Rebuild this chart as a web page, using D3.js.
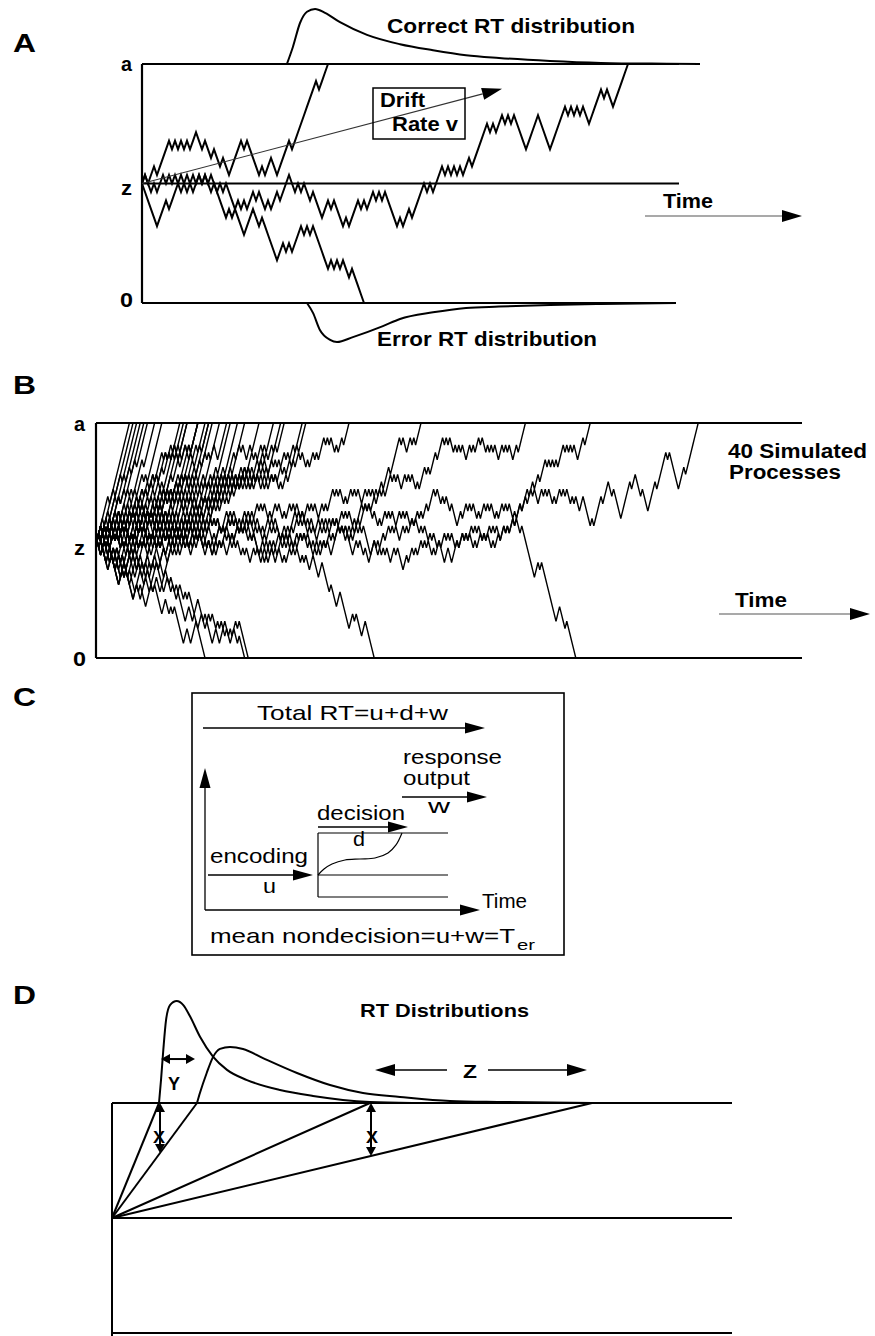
<!DOCTYPE html>
<html>
<head>
<meta charset="utf-8">
<script src="https://cdn.jsdelivr.net/npm/d3@7"></script>
<style>
  body { margin: 0; background: #fff; }
  svg { display: block; }
  text { font-family: "Liberation Sans", Arial, Helvetica, sans-serif; fill: #000; }
</style>
</head>
<body>
<svg id="fig" width="875" height="1336"></svg>
<script>
// Diffusion model figure: panels A-D.
// Random walks are stored as runs of unit steps (+n = n steps up, -n = n steps down).

const panelLetters = ["A", "B", "C", "D"];
const boundLabels = ["a", "z", "0"];

// ---- panel A ----
const boundA = 14;            // a - z in step units
const walkAFast = [1,-1,2,-1,4,-1,1,-1,1,-1,1,-1,2,-2,1,-2,1,-2,1,-2,4,-1,1,-4,1,-1,2,-2,4,-1,1,7,-1,3];
const walkASlow = [1,-2,1,-1,2,-1,1,-1,1,-2,2,-1,1,-1,1,-1,1,-1,1,-2,-3,1,-1,2,-1,1,-1,2,-1,1,-2,1,-1,2,-1,3,
    -2,1,-1,1,-1,-1,1,-3,2,-1,1,-3,1,-1,3,-1,1,-1,2,-1,1,-1,1,-4,1,-1,2,-1,1,3,-1,1,-1,3,
    -1,1,-1,1,-1,1,-1,2,-1,4,1,-1,1,-1,2,-1,1,-1,1,-4,4,-4,5,-1,1,-1,1,-1,1,-2,4,-1,1,-2,5];
const walkAError = [-5,3,-1,3,1,-2,1,-1,2,-1,1,-2,1,-1,1,-1,1,-1,-5,3,-2,1,-5,2,-1,1,-1,3,
    -1,1,-1,1,-1,-3,-1,1,-1,1,-1,1,-1,-1,1,-4];
// RT densities, [time step, relative height]
const correctDensityA = [[48.3,0],[50.3,0.31],[52.7,0.75],[55,0.95],[57.7,1],[61,0.93],[66,0.76],[75,0.53],
    [86,0.36],[97,0.25],[108,0.16],[119,0.11],[136,0.055],[153,0.02],[175,0.005],[186,0]];
const errorDensityA = [[55,0],[57,0.18],[59.3,0.49],[62.7,0.67],[65,0.71],[70.3,0.62],[80.3,0.42],[86,0.29],
    [97,0.17],[108,0.09],[119,0.065],[136,0.036],[153,0.018],[178,0]];
const driftA = [[0, 0], [120, 11.1]];   // drift rate arrow, [time, evidence above z]
const textA = ["Correct RT distribution", "Error RT distribution", "Drift", "Rate v", "Time"];

// ---- panel B: 40 simulated processes ----
const boundB = 16;
const walksB = [
  [6,-1,11],
  [3,-1,5,-1,10],
  [1,-1,4,-1,6,-1,8],
  [2,-1,1,-1,5,-1,4,-1,8],
  [-1,3,-1,2,-1,4,-1,5,-1,7],
  [1,-1,1,-1,3,-1,4,-1,2,-1,5,-1,6],
  [2,-1,1,-2,3,-1,2,-1,4,-1,1,-1,5,-1,6],
  [1,-1,2,-1,1,-1,3,-2,1,-1,4,-1,2,-1,3,-1,1,-1,8],
  [-1,2,-1,1,-2,3,-1,2,-1,1,-1,3,-1,2,-1,1,-1,3,-1,1,-1,5,-1,1,-1,2,-1,1,-1,4],
  [2,-1,1,-1,1,-2,1,-1,3,-1,1,-1,2,-1,1,-1,4,-1,1,-1,3,-1,1,-1,4,-1,1,-1,2,-1,1,-1,4],
  [-2,1,-1,3,-1,1,-1,1,-1,2,-1,1,-1,3,-1,1,-1,2,-1,1,-1,3,-1,2,-1,1,-1,5,-1,1,-2,3,-1,1,-1,4],
  [2,-1,1,-1,1,-2,1,-1,2,-1,1,-1,3,-1,1,-2,1,-1,2,-1,1,-1,3,-1,2,-1,1,-1,6,-1,1,-1,2,-1,1,-1,4],
  [1,-2,1,-2,1,-1,-2,1,1,-1,2,-1,1,-1,2,-1,3,-1,1,-1,3,-1,2,-1,1,-1,3,-1,1,-1,2,-1,5,-1,1,-1,2,-1,1,-1,4],
  [1,-1,3,-1,1,-2,3,-1,1,-1,1,-2,1,-1,3,-1,1,-1,2,-1,1,-2,3,-1,1,-1,3,-1,8],
  [-2,1,1,-2,1,-1,-2,1,1,-1,-1,2,1,-1,2,-1,1,-1,2,-1,3,-1,1,-1,2,-1,3,-1,2,-1,1,-1,3,-1,8],
  [1,-1,1,-1,2,-1,1,-1,1,-2,1,-1,2,-1,3,-1,1,-1,1,-1,1,-2,2,-1,3,-1,1,-1,2,-1,1,-1,3,-1,1,-1,1,-2,2,-1,3,-1,2,-1,1,-1,2,-2,5],
  [1,-2,-2,1,1,-2,1,-1,-2,1,1,-1,-1,2,1,-1,-1,2,2,-1,1,-1,2,-1,3,-1,1,-1,2,-1,1,-1,3,-1,2,-1,1,-1,3,-1,8],
  [2,-1,1,-1,1,-2,1,-1,1,-1,2,-1,1,-2,1,-1,2,-1,1,-1,3,-1,1,-1,1,-2,2,-1,1,-1,2,-1,3,-1,1,-1,2,-1,3,-1,7],
  [-2,1,-3,1,1,-2,-2,1,1,-1,1,-2,-2,1,1,-1,-1,2,1,-1,-1,2,2,-1,1,-1,-1,2,2,-1,1,-1,2,-1,1,-1,3,-1,1,-1,2,-1,3,-1,2,-1,1,-1,3,-1,5,-1,2,-1,1,-2,2,-1,4],
  [1,-1,2,-1,1,-1,1,-2,2,-1,1,-1,3,-1,1,-2,1,-1,2,-1,1,-1,1,-1,2,-1,3,-1,1,-2,1,-1,2,-1,3,-1,1,-2,1,-1,1,-2,2,-1,1,-1,3,-1,7],
  [-2,1,-3,1,1,-2,-2,1,1,-1,1,-2,1,-1,-1,2,1,-1,-1,2,1,-1,2,-1,-1,2,1,-1,2,-1,1,-1,2,-1,3,-1,1,-1,2,-1,1,-1,3,-1,2,-1,1,-1,3,-1,1,-1,2,-1,7],
  [2,-1,1,-2,1,-1,2,-1,1,-1,1,-2,1,-1,2,-1,1,-1,3,-1,1,-2,1,-1,2,-1,1,-1,1,-2,2,-1,1,-1,3,-1,1,-1,2,-1,1,-1,3,-1,8],
  [1,-1,1,-2,1,-1,-2,1,1,-1,2,-1,1,-1,1,-2,1,-1,2,-1,1,-1,2,-1,1,-1,1,-2,2,-1,1,-1,3,-1,1,-1,2,-1,1,-1,1,-2,1,-1,2,-1,3,-1,1,-1,2,-1,1,-1,3,-1,1,-2,1,-1,2,-1,4,-1,1,-1,2,-1,1,-1,4],
  [1,-2,1,-1,1,-2,1,-1,-2,1,1,-1,-1,2,1,-1,1,-2,1,-1,-1,2,2,-1,1,-1,2,-1,1,-1,1,-2,1,-1,2,-1,1,-1,3,-1,1,-1,1,-2,2,-1,1,-1,3,-1,1,-1,2,-1,1,-1,3,-1,2,-1,1,-1,1,-2,1,-1,5,-1,1,-1,2,-1,1,-1,4],
  [1,-1,1,-2,-2,1,1,-1,1,-2,1,-1,-1,2,1,-1,2,-1,1,-1,1,-2,1,-1,2,-1,1,-1,3,-1,1,-2,1,-1,1,-1,2,-1,1,-1,3,-1,1,-1,1,-2,2,-1,3,-1,1,-1,2,-1,1,-1,3,-1,1,-1,1,-2,1,-1,2,-1,1,-2,2,-1,8],
  [1,-2,-2,1,1,-2,1,-1,-2,1,-1,2,1,-1,1,-2,1,-1,-1,2,1,-1,-1,2,2,-1,1,-1,-1,2,2,-1,1,-1,2,-1,1,-1,3,-1,1,-1,2,-1,1,-2,1,-1,3,-1,2,-1,1,-1,1,-2,2,-1,1,-1,3,-1,1,-2,1,-1,1,-2,1,-1,2,-1,1,-1,4,-1,1,-1,2,-1,1,-1,4],
  [2,-1,1,-1,2,-1,1,-1,1,-2,2,-1,1,-1,3,-1,1,-1,1,-2,1,-1,2,-1,1,-1,1,-2,1,-1,3,-1,1,-1,1,-2,2,-1,1,-1,1,-2,1,-1,2,-1,1,-1,3,-1,1,-1,2,-1,1,-2,1,-1,1,-1,3,-1,1,-2,1,-1,2,-1,1,-1,1,-2,1,-1,1,-2,1,-1,2,-1,8],
  [1,-1,2,-1,1,-1,3,-1,1,-1,2,-1,1,-2,3,-1,2,-1,1,-1,3,-1,1,-1,2,-1,3,-1,5],
  [1,-2,1,-1,2,-1,1,-1,1,-2,1,-1,2,-1,3,-1,1,-1,2,-1,1,-1,1,-2,3,-1,2,-1,1,-1,3,-1,1,-1,2,-1,3,-1,6],
  [1,-1,1,-1,1,-2,2,-1,1,-1,1,-2,1,-1,2,-1,1,-1,3,-1,1,-1,1,-2,2,-1,1,-1,1,-2,2,-1,1,-1,3,-1,1,-1,2,-1,1,-1,3,-1,1,-1,2,-1,1,-2,3,-1,7],
  // errors
  [1,-2,-2,1,1,-2,-3,1,1,-1,1,-2,-2,1,1,-1,1,-2,-1,2,1,-1,1,-2,-2,1,1,-2,1,-1,1,-2,-3,1,1,-1,-1,2,1,-1,-4],
  [1,-1,1,-2,-2,1,1,-1,1,-2,1,-1,-2,1,-1,2,1,-2,1,-1,1,-2,-2,1,1,-1,-1,2,1,-2,1,-1,-2,1,1,-2,1,-1,1,-2,-3,1,1,-1,1,-2,-2,1,1,-1,-1,2,1,-2,1,-1,1,-2,1,-1,-2],
  [1,-2,1,-1,1,-2,-2,1,1,-1,-1,2,1,-2,-2,1,1,-1,1,-2,1,-1,2,-1,1,-2,-2,1,1,-2,1,-1,1,-2,-3,1,1,-1,-1,2,1,-2,-2,1,1,-1,1,-2,1,-1,1,-2,1,-1,-1,2,1,-1,1,-2,-3],
  // slow processes
  [1,-1,2,-1,1,-1,1,-2,2,-1,1,-1,1,-2,1,-1,2,-1,1,-1,1,-1,1,-2,2,-1,1,-1,2,-1,1,-1,1,-2,1,-1,2,-1,1,-1,
   3,-1,1,-1,2,-1,3,-1,1,-1,2,-1,1,-1,1,-2,2,-1,1,-1,2,-1,1,-2,1,-1,3,-1,1,-1,1,-2,2,-1,1,-1,1,-2,1,-1,
   2,-1,1,-1,2,-1,1,-2,1,-1,2,-1,1,-1,3,-1,1,-1,1,-2,1,-1,2,-1,3],
  [1,-1,2,-1,1,-1,1,-2,1,-1,1,-2,2,-1,1,-1,2,-1,3,-1,1,-1,1,-2,1,-2,1,-1,1,-2,1,-1,2,-1,1,-1,1,-2,-2,1,
   1,-1,2,-1,-1,2,2,-1,1,-1,1,-2,1,-1,2,-1,1,-1,1,-2,3,-1,1,-1,1,-2,1,-2,1,-1,2,-1,1,-1,1,-2,-2,1,-1,2,
   1,-1,2,-1,1,-1,1,-2,1,-1,1,-2,2,-1,1,-1,2,-1,1,-1,1,-2,1,-2,2,-1,1,-1,2,-1,
   3,-1,1,-1,3,-1,2,-1,3,-1,5,-1,1,-2,2,-1,1,-1,3],
  [1,-1,2,-1,1,-1,1,-2,1,-1,2,-1,1,-2,1,-1,2,-1,1,-1,1,-2,1,-1,2,-1,1,-1,2,-1,1,-2,1,-1,1,-2,1,-1,2,-1,
   1,-1,1,-2,2,-1,1,-1,2,-1,1,-1,1,-2,1,-1,2,-1,1,-1,1,-2,1,-1,2,-1,1,-1,3,-1,1,-1,1,-2,1,-1,2,-1,1,-2,
   1,-1,2,-1,1,-1,1,-2,1,-1,2,-1,1,-1,1,-2,2,-1,1,-1,3,-1,1,-1,1,-2,1,-1,2,-1,1,-1,1,-2,2,-1,1,-1,1,-2,
   2,-1,1,-1,3,-1,1,-1,1,-2,2,-1,1,-1,1,-2,1,-1,3,-1,1,-1,3,-1,3,-1,1,-1,1,-2,1,-1,1,-1,1,-2,2,-1,1,-1,
   2,-1,1,-2,1,-1,1,-1,1,-2,2,-1,1,-1,1,-2,2,-1,4],
  [1,-1,1,-2,1,-1,2,-1,1,-2,1,-1,2,-1,1,-1,1,-2,1,-1,2,-1,1,-1,1,-2,-2,1,1,-1,-1,2,1,-1,1,-2,2,-1,1,-1,
   2,-1,1,-1,2,-1,1,-1,1,-2,1,-1,2,-1,3,-1,1,-1,1,-2,1,-1,1,-2,1,-2,1,-1,-2,1,1,-1,1,-2,1,-1,-1,2,2,-1,
   1,-1,1,-2,1,-1,2,-1,1,-1,1,-2,1,-1,1,-2,2,-1,1,-1,-1,2,2,-1,1,-1,1,-2,1,-1,2,-1,1,-1,1,-2,-2,1,1,-1,
   -1,2,1,-1,2,-1,1,-1,1,-2,2,-1,1,-1,2,-1,1,-2,1,-1,1,-2,1,-1,1,-2,1,-1,-2,1,1,-1,-1,2,1,-1,2,-1,1,-1,
   1,-2,1,-1,2,-1,1,-1,1,-2,1,-1,2,-1,2,-1,1,-1,2,-1,
   3,-1,2,-1,3,-1,2,-1,3,-1,1,-1,1,-1,1,-1,3,-1,1,-1,1,-1,1,-2,3,-1,3],
  [1,-1,2,-1,1,-1,1,-2,2,-1,1,-1,1,-2,1,-1,2,-1,1,-1,1,-2,1,-1,2,-1,1,-1,1,-2,1,-1,2,-1,1,-1,1,-2,1,-1,
   2,-1,1,-1,1,-2,-2,1,1,-1,-1,2,2,-1,1,-1,1,-2,1,-1,2,-1,1,-1,2,-1,1,-2,1,-1,1,-2,1,-1,2,-1,1,-1,1,-2,
   2,-1,1,-1,3,-1,1,-1,1,-2,1,-1,1,-2,2,-1,1,-1,1,-2,2,-1,1,-1,2,-1,1,-1,1,-2,1,-1,3,-1,1,-1,1,-2,1,-2,
   1,-1,2,-1,1,-1,1,-2,2,-1,1,-1,1,-2,1,-1,2,-1,1,-1,2,-1,3,-1,1,-2,1,-1,1,-2,1,-1,-2,1,1,-1,2,-1,1,-1,
   1,-2,1,-1,2,-1,1,-1,1,-2,1,-1,2,-1,1,-1,1,-2,1,-1,2,-1,3,-1,1,-1,1,-2,2,-1,1,-1,1,-2,1,-1,
   2,-1,1,-1,1,-2,1,-1,1,-2,2,-1,
   -3,1,-1,4,-1,3,-2,1,-4,5,-1,2,-3,1,-3,4,-1,5,-1,1,-3,-2,3,-1,1,6],
  [1,-1,2,-1,1,-1,1,-2,1,-1,2,-1,1,-2,1,-1,2,-1,1,-1,1,-2,1,-1,1,-2,2,-1,1,-1,2,-1,1,-2,1,-1,1,-1,1,-2,
   2,-1,1,-1,1,-2,1,-1,1,-2,2,-1,1,-1,2,-1,1,-2,1,-1,1,-2,1,-1,1,-2,2,-1,1,-1,1,-2,1,-1,2,-1,1,-1,1,-2,
   1,-1,2,-1,1,-1,1,-2,1,-1,1,-2,2,-1,-2,1,1,-2,-2,1,-3,1,1,-2,-3,1,1,-1,1,-2,-1,2,-5],
  [1,-1,1,-2,1,-1,2,-1,1,-2,1,-1,2,-1,1,-1,1,-2,1,-1,2,-1,1,-1,1,-2,1,-1,2,-1,1,-1,2,-1,1,-2,1,-1,1,-2,
   1,-1,2,-1,1,-1,1,-2,1,-1,1,-2,2,-1,1,-1,-1,2,1,-1,2,-1,1,-1,1,-2,1,-1,1,-2,-2,1,1,-1,2,-1,1,-1,2,-1,
   1,-1,1,-2,1,-1,2,-1,1,-1,1,-2,1,-2,1,-1,2,-1,1,-1,2,-1,1,-1,2,-1,1,-1,1,-2,-2,1,1,-1,1,-2,1,-1,-1,2,
   1,-1,1,-2,1,-1,1,-2,2,-1,1,-1,-2,1,1,-1,2,-1,1,-1,2,-1,1,-1,1,-2,1,-1,2,-1,2,-1,1,-1,1,-2,1,-1,2,-1,
   1,-1,2,-1,1,-1,1,-2,1,-1,2,-1,1,-1,1,-2,2,-1,1,-1,2,-1,1,-1,
   -1,1,-7,2,-1,1,-8,2,-3,1,-1,-4]
];
const textB = ["40 Simulated", "Processes", "Time"];

// ---- panel C: components of RT ----
const decisionPathC = [[0,0.344],[6,0.4375],[14,0.516],[27,0.578],[42,0.594],[57,0.609],[70,0.688],[78,0.813],[84,1]];
const boundsC = [1, 0.344, 0];
const textC = ["Total RT=u+d+w", "response", "output", "w", "decision", "d", "encoding", "u", "Time",
    "mean nondecision=u+w=T", "er"];

// ---- panel D: RT distributions ----
const rtNarrowD = [[47,0],[49,0.225],[51.3,0.52],[54,0.81],[58,0.96],[64.7,1],[71.3,0.96],[78,0.85],[88,0.65],
    [101,0.455],[115,0.325],[135,0.225],[168,0.127],[201,0.069],[258,0.01],[300,0]];
const rtWideD = [[85,0],[88,0.1],[94.7,0.294],[101,0.45],[108,0.53],[118,0.55],[131,0.53],[151,0.44],[185,0.294],
    [218,0.176],[251,0.098],[288,0.06],[338,0.02],[388,0.01],[480,0]];
const fanEndsD = [47, 85, 258, 480];
const textD = ["RT Distributions", "X", "Y", "Z"];

// ---------------------------------------------------------------
const svg = d3.select("#fig");

function walkPoints(runs, bound) {
    let pts = [[0, 0]], t = 0, v = 0;
    for (const r of runs) {
        const s = Math.sign(r);
        for (let i = 0; i < Math.abs(r); i++) {
            t += 1; v += s;
            pts.push([t, v]);
            if (Math.abs(v) >= bound) return pts;
        }
    }
    return pts;
}

function label(g, str, x, y, size, width, bold) {
    let t = g.append('text')
        .attr('x', x).attr('y', y)
        .attr('font-size', size)
        .text(str);
    if (bold) t.attr('font-weight', 'bold');
    if (width) t.attr('textLength', width).attr('lengthAdjust', 'spacingAndGlyphs');
    return t;
}

function hline(g, x1, x2, y, w) {
    g.append('line').attr('x1', x1).attr('x2', x2).attr('y1', y).attr('y2', y)
        .attr('stroke', '#000').attr('stroke-width', w);
}
function vline(g, x, y1, y2, w) {
    g.append('line').attr('x1', x).attr('x2', x).attr('y1', y1).attr('y2', y2)
        .attr('stroke', '#000').attr('stroke-width', w);
}

function arrowHead(g, x1, y1, x2, y2, len, half) {
    let a = Math.atan2(y2 - y1, x2 - x1);
    let bx = x2 - len * Math.cos(a), by = y2 - len * Math.sin(a);
    let nx = -Math.sin(a) * half, ny = Math.cos(a) * half;
    g.append('path')
        .attr('d', `M${x2},${y2}L${bx + nx},${by + ny}L${bx - nx},${by - ny}Z`)
        .attr('fill', '#000');
    return [bx, by];
}

function arrow(g, x1, y1, x2, y2, opt) {
    let o = Object.assign({len: 20, half: 6, width: 1.2, color: '#000', both: false}, opt);
    let [bx, by] = arrowHead(g, x1, y1, x2, y2, o.len, o.half);
    let sx = x1, sy = y1;
    if (o.both) { [sx, sy] = arrowHead(g, x2, y2, x1, y1, o.len, o.half); }
    g.append('line').attr('x1', sx).attr('y1', sy).attr('x2', bx).attr('y2', by)
        .attr('stroke', o.color).attr('stroke-width', o.width);
}

// panel letters
[[13, 52], [13, 394], [13, 706], [13, 1004]].forEach((p, i) =>
    label(svg, panelLetters[i], p[0], p[1], 26, 23, true));

// ---------------- Panel A ----------------
{
    const g = svg.append('g');
    const x = d3.scaleLinear().domain([0, 180]).range([142, 682]);
    const y = d3.scaleLinear().domain([0, 2 * boundA]).range([303, 64]);
    const h = d3.scaleLinear().domain([0, 1]).range([0, 55]);
    const z = boundA;

    hline(g, x(0), x(179), y(2 * boundA), 2.2);
    hline(g, x(0), x(179), y(z), 2.2);
    hline(g, x(0), x(178), y(0), 2.2);
    vline(g, x(0), y(2 * boundA), y(0), 2.2);

    label(g, boundLabels[0], 121, 71, 21, 11, true);
    label(g, boundLabels[1], 121, 195, 21, 11, true);
    label(g, boundLabels[2], 120, 307, 21, 13, true);

    const walk = d3.line().x(d => x(d[0])).y(d => y(z + d[1]));
    [walkAFast, walkASlow, walkAError].forEach(runs => {
        g.append('path').attr('d', walk(walkPoints(runs, boundA)))
            .attr('fill', 'none').attr('stroke', '#000').attr('stroke-width', 2)
            .attr('stroke-linejoin', 'miter');
    });

    const top = d3.line().x(d => x(d[0])).y(d => y(2 * boundA) - h(d[1])).curve(d3.curveMonotoneX);
    const bottom = d3.line().x(d => x(d[0])).y(d => y(0) + h(d[1])).curve(d3.curveMonotoneX);
    g.append('path').attr('d', top(correctDensityA)).attr('fill', 'none').attr('stroke', '#000').attr('stroke-width', 2);
    g.append('path').attr('d', bottom(errorDensityA)).attr('fill', 'none').attr('stroke', '#000').attr('stroke-width', 2);

    // drift rate
    arrow(g, x(driftA[0][0]), y(z + driftA[0][1]), x(driftA[1][0]), y(z + driftA[1][1]),
          {len: 20, half: 6, width: 1.1, color: '#333'});
    g.append('rect').attr('x', 373).attr('y', 88).attr('width', 92).attr('height', 51)
        .attr('fill', 'none').attr('stroke', '#000').attr('stroke-width', 1.5);
    label(g, textA[2], 380, 107, 20, 45, true);
    label(g, textA[3], 392, 131, 20, 66, true);

    label(g, textA[0], 387, 33, 21, 248, true);
    label(g, textA[1], 377, 346, 21, 220, true);

    label(g, textA[4], 663, 208, 20, 50, true);
    arrow(g, 645, 216, 802, 216, {len: 20, half: 6, width: 1.1, color: '#555'});
}

// ---------------- Panel B ----------------
{
    const g = svg.append('g');
    const x = d3.scaleLinear().domain([0, 390]).range([97, 799]);
    const y = d3.scaleLinear().domain([0, 2 * boundB]).range([658, 423]);
    const z = boundB;

    hline(g, x(0) - 1, 802, y(2 * boundB), 2.2);
    hline(g, x(0) - 1, 802, y(0), 2.2);
    vline(g, x(0) - 1, y(2 * boundB), y(0), 2.2);

    label(g, boundLabels[0], 74, 431, 21, 11, true);
    label(g, boundLabels[1], 74, 555, 21, 11, true);
    label(g, boundLabels[2], 73, 666, 21, 13, true);

    const walk = d3.line().x(d => x(d[0])).y(d => y(z + d[1]));
    g.append('g').selectAll('path').data(walksB).join('path')
        .attr('d', runs => walk(walkPoints(runs, boundB)))
        .attr('fill', 'none').attr('stroke', '#000').attr('stroke-width', 1.4)
        .attr('stroke-linejoin', 'miter');

    label(g, textB[0], 728, 458, 20, 139, true);
    label(g, textB[1], 729, 479, 20, 112, true);
    label(g, textB[2], 735, 607, 20, 52, true);
    arrow(g, 719, 614, 870, 614, {len: 20, half: 6, width: 1.1, color: '#555'});
}

// ---------------- Panel C ----------------
{
    const g = svg.append('g');
    g.append('rect').attr('x', 192).attr('y', 693).attr('width', 372).attr('height', 262)
        .attr('fill', 'none').attr('stroke', '#000').attr('stroke-width', 1.6);

    const x = d3.scaleLinear().domain([0, 130]).range([318, 448]);
    const y = d3.scaleLinear().domain([0, 1]).range([897, 833]);
    boundsC.forEach(v => hline(g, x(0), x(130), y(v), 1.2));
    vline(g, x(0), y(1), y(0), 1.2);
    g.append('path')
        .attr('d', d3.line().x(d => x(d[0])).y(d => y(d[1])).curve(d3.curveCatmullRom)(decisionPathC))
        .attr('fill', 'none').attr('stroke', '#000').attr('stroke-width', 1.2);

    const hd = {len: 20, half: 5.5, width: 1.3};
    arrow(g, 203, 728, 485, 728, hd);       // total RT
    arrow(g, 205, 910, 205, 768, hd);       // vertical axis
    arrow(g, 205, 910, 480, 910, hd);       // time axis
    arrow(g, 208, 875, 313, 875, hd);       // encoding
    arrow(g, 318, 827, 408, 827, hd);       // decision
    arrow(g, 402, 797, 487, 797, hd);       // response output

    label(g, textC[0], 257, 720, 21, 191);
    label(g, textC[1], 403, 764, 21, 99);
    label(g, textC[2], 403, 785, 21, 67);
    label(g, textC[3], 428, 813, 21, 22);
    label(g, textC[4], 317, 820, 21, 88);
    label(g, textC[5], 353, 846, 21, 12);
    label(g, textC[6], 210, 863, 21, 98);
    label(g, textC[7], 263, 893, 21, 13);
    label(g, textC[8], 482, 908, 21, 45);
    label(g, textC[9], 210, 943, 21, 305);
    label(g, textC[10], 517, 950, 15, 18);
}

// ---------------- Panel D ----------------
{
    const g = svg.append('g');
    const x = d3.scaleLinear().domain([0, 620]).range([112, 732]);
    const y = d3.scaleLinear().domain([0, 1]).range([1333, 1103]);
    const h = d3.scaleLinear().domain([0, 1]).range([0, 102]);
    const z = 0.5;

    hline(g, x(0), x(620), y(1), 2);
    hline(g, x(0), x(620), y(z), 2);
    hline(g, x(0), x(620), y(0), 2);
    vline(g, x(0), y(1), 1336, 2);

    fanEndsD.forEach(t => {
        g.append('line').attr('x1', x(0)).attr('y1', y(z)).attr('x2', x(t)).attr('y2', y(1))
            .attr('stroke', '#000').attr('stroke-width', 2);
    });

    const dens = d3.line().x(d => x(d[0])).y(d => y(1) - h(d[1])).curve(d3.curveMonotoneX);
    [rtNarrowD, rtWideD].forEach(data => {
        g.append('path').attr('d', dens(data)).attr('fill', 'none').attr('stroke', '#000').attr('stroke-width', 2);
    });

    // X: vertical gap between leading-edge / trailing-edge drift lines
    const fanY = (end, t) => y(z + (1 - z) * t / end);
    const dbl = {len: 9, half: 5, width: 2, both: true};
    arrow(g, x(48), y(1), x(48), fanY(fanEndsD[1], 48), dbl);
    arrow(g, x(259), y(1), x(259), fanY(fanEndsD[3], 259), dbl);
    label(g, textD[1], 153, 1143, 17, 12, true);
    label(g, textD[1], 366, 1143, 17, 12, true);

    // Y: horizontal shift of the leading edge
    arrow(g, x(49), y(1) - h(0.431), x(83), y(1) - h(0.431), dbl);
    label(g, textD[2], 168, 1090, 18, 12, true);

    // Z: spread of the tails
    const zy = y(1) - h(0.324);
    arrow(g, x(335), zy, x(263), zy, {len: 20, half: 6, width: 1.5});
    arrow(g, x(376), zy, x(475), zy, {len: 20, half: 6, width: 1.5});
    label(g, textD[3], 463, 1078, 18, 14, true);

    label(g, textD[0], 360, 1017, 19, 169, true);
}
</script>
</body>
</html>
